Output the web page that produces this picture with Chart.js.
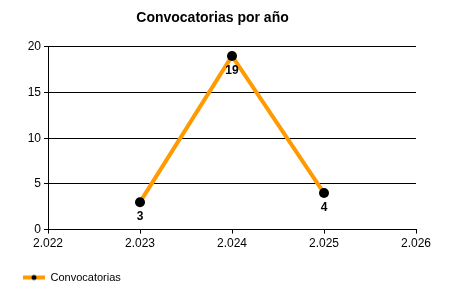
<!DOCTYPE html>
<html>
<head>
<meta charset="utf-8">
<script src="https://cdn.jsdelivr.net/npm/chart.js@4/dist/chart.umd.min.js"></script>
<style>
  html, body { margin:0; padding:0; background:#fff; }
  #wrap { width:450px; height:300px; }
</style>
</head>
<body>
<div id="wrap"><canvas id="c"></canvas></div>
<script>
// data
const years = [2023, 2024, 2025];
const convocatorias = [3, 19, 4];
const xTicks = [2022, 2023, 2024, 2025, 2026];
const xTickLabels = ['2.022', '2.023', '2.024', '2.025', '2.026'];
const yTicks = [0, 5, 10, 15, 20];

const ORANGE = '#FF9A00';
const FONT = "'Liberation Sans', Arial, sans-serif";

// legend marker: orange line with a black dot
const marker = document.createElement('canvas');
marker.width = 22; marker.height = 8;
(function(){
  const m = marker.getContext('2d');
  m.strokeStyle = ORANGE; m.lineWidth = 4;
  m.beginPath(); m.moveTo(0,4); m.lineTo(22,4); m.stroke();
  m.fillStyle = '#000';
  m.beginPath(); m.arc(11,4,2.5,0,Math.PI*2); m.fill();
})();

// value labels under each point
const valueLabels = {
  id:'valueLabels',
  afterDatasetsDraw(chart){
    const ctx = chart.ctx;
    const meta = chart.getDatasetMeta(0);
    ctx.save();
    ctx.font = 'bold 12px ' + FONT;
    ctx.fillStyle = '#000';
    ctx.textAlign = 'center';
    ctx.textBaseline = 'middle';
    meta.data.forEach((pt, i)=>{
      ctx.fillText(String(convocatorias[i]), pt.x, pt.y + 15);
    });
    ctx.restore();
  }
};

new Chart(document.getElementById('c'), {
  type:'line',
  data:{
    datasets:[{
      label:'Convocatorias',
      data: years.map((y,i)=>({x:y, y:convocatorias[i]})),
      borderColor: ORANGE,
      borderWidth: 4,
      pointBackgroundColor:'#000',
      pointBorderColor:'#000',
      pointRadius: 5,
      pointBorderWidth: 0,
      pointStyle: 'circle',
      tension: 0
    }]
  },
  options:{
    responsive:true,
    maintainAspectRatio:false,
    animation:false,
    layout:{padding:{left:9, right:34, top:0, bottom:7}},
    plugins:{
      title:{display:true, text:'Convocatorias por año', color:'#000',
        font:{family:FONT, size:14, weight:'bold'}, padding:{top:10, bottom:20}},
      legend:{display:true, position:'bottom', align:'start',
        labels:{usePointStyle:true, pointStyle:marker, pointStyleWidth:22, color:'#000',
          font:{family:FONT, size:11}, padding:14}},
      tooltip:{enabled:false}
    },
    scales:{
      x:{
        type:'linear', min:2022, max:2026,
        afterBuildTicks(axis){ axis.ticks = xTicks.map(v=>({value:v})); },
        afterFit(axis){ axis.height += 4; },
        ticks:{color:'#000', font:{family:FONT, size:12}, padding:3,
          callback:(v)=>xTickLabels[xTicks.indexOf(v)]},
        grid:{drawOnChartArea:false, color:'#000', tickLength:4},
        border:{color:'#000', width:1}
      },
      y:{
        min:0, max:20,
        afterBuildTicks(axis){ axis.ticks = yTicks.map(v=>({value:v})); },
        afterFit(axis){ axis.width = 39; },
        ticks:{color:'#000', font:{family:FONT, size:12}, padding:3},
        grid:{color:'#000', tickLength:4},
        border:{color:'#000', width:1}
      }
    }
  },
  plugins:[valueLabels]
});
</script>
</body>
</html>
